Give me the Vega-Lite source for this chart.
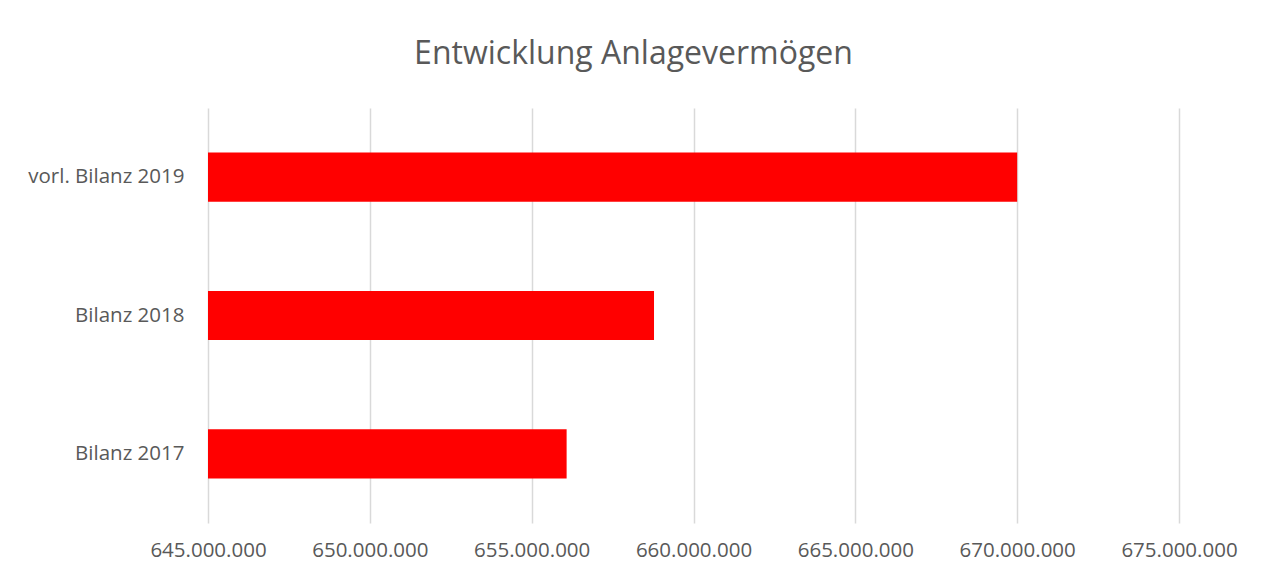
{
  "$schema": "https://vega.github.io/schema/vega-lite/v6.json",
  "width": 971,
  "height": 415,
  "autosize": {"type": "none"},
  "padding": {"left": 208, "top": 108, "right": 92, "bottom": 54},
  "background": "white",
  "title": {
    "text": "Entwicklung Anlagevermögen",
    "font": "Open Sans",
    "fontSize": 32,
    "fontWeight": "normal",
    "color": "#595959",
    "anchor": "middle",
    "dx": -60,
    "offset": 37
  },
  "data": {
    "values": [
      {"kategorie": "vorl. Bilanz 2019", "wert": 670000000},
      {"kategorie": "Bilanz 2018", "wert": 658780000},
      {"kategorie": "Bilanz 2017", "wert": 656080000}
    ]
  },
  "mark": {"type": "bar", "color": "#ff0000", "clip": true},
  "encoding": {
    "y": {
      "field": "kategorie",
      "type": "nominal",
      "sort": ["vorl. Bilanz 2019", "Bilanz 2018", "Bilanz 2017"],
      "scale": {"paddingInner": 0.645, "paddingOuter": 0.3225},
      "axis": {
        "title": null,
        "domain": false,
        "ticks": false,
        "labelPadding": 24,
        "labelFont": "Open Sans",
        "labelFontSize": 20.5,
        "labelColor": "#595959"
      }
    },
    "x": {
      "field": "wert",
      "type": "quantitative",
      "scale": {"domain": [645000000, 675000000], "nice": false, "zero": false},
      "axis": {
        "title": null,
        "domain": false,
        "ticks": false,
        "values": [645000000, 650000000, 655000000, 660000000, 665000000, 670000000, 675000000],
        "format": ",.0f",
        "labelExpr": "replace(datum.label, /,/g, '.')",
        "labelFlush": false,
        "labelOverlap": false,
        "labelBound": false,
        "labelPadding": 17,
        "labelFont": "Open Sans",
        "labelFontSize": 20.5,
        "labelColor": "#595959",
        "grid": true,
        "gridColor": "#d9d9d9",
        "gridWidth": 1.5
      }
    }
  },
  "config": {
    "view": {"stroke": null}
  }
}
